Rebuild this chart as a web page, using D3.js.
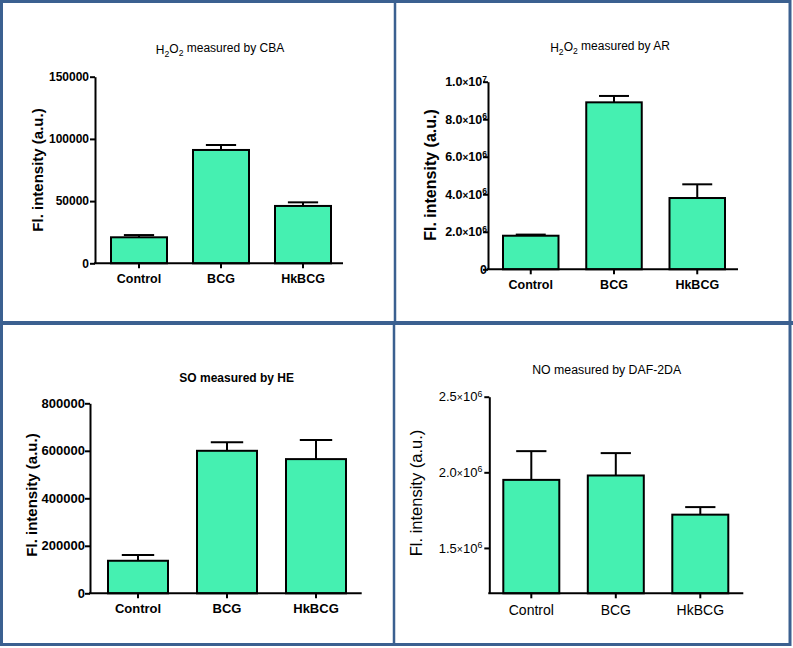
<!DOCTYPE html>
<html>
<head>
<meta charset="utf-8">
<script src="https://cdn.jsdelivr.net/npm/d3@7"></script>
<style>
  html, body { margin: 0; padding: 0; background: #fff; }
  svg { display: block; font-family: Arial, "Liberation Sans", sans-serif; }
</style>
</head>
<body>
<svg id="chart" width="793" height="648"></svg>
<script>
// ---------- DATA ----------
const categories = ["Control", "BCG", "HkBCG"];

const cbaMeans  = [20900, 91100, 46100];
const cbaErrors = [1800, 4000, 2900];
const cbaTicks  = [0, 50000, 100000, 150000];

const arMeans  = [1790000, 8900000, 3800000];
const arErrors = [60000, 340000, 730000];
const arTicks  = [0, 2000000, 4000000, 6000000, 8000000, 10000000];

const heMeans  = [137000, 600000, 565000];
const heErrors = [24000, 36000, 80000];
const heTicks  = [0, 200000, 400000, 600000, 800000];

const dafMeans  = [1950000, 1979000, 1720000];
const dafErrors = [190000, 148000, 50000];
const dafTicks  = [1500000, 2000000, 2500000];

const titles = ["H2O2 measured by CBA", "H2O2 measured by AR", "SO measured by HE", "NO measured by DAF-2DA"];
const yLabel = "Fl. intensity (a.u.)";

// ---------- STYLE ----------
const barFill = "#45f0b1";
const frameColor = "#3b6090";

const svg = d3.select("#chart");

// panel frames
svg.append("rect").attr("x", 1.5).attr("y", 1.5).attr("width", 788.5).attr("height", 643)
  .attr("fill", "none").attr("stroke", frameColor).attr("stroke-width", 3);
svg.append("line").attr("x1", 395).attr("x2", 395).attr("y1", 0).attr("y2", 323)
  .attr("stroke", frameColor).attr("stroke-width", 2.5);
svg.append("line").attr("x1", 394).attr("x2", 394).attr("y1", 323).attr("y2", 646)
  .attr("stroke", frameColor).attr("stroke-width", 2.5);
svg.append("line").attr("x1", 0).attr("x2", 793).attr("y1", 323).attr("y2", 323)
  .attr("stroke", frameColor).attr("stroke-width", 4);

const panels = [
  { means: cbaMeans, errors: cbaErrors, ticks: cbaTicks, domain: [0, 150000], title: titles[0], sci: false,
    bold: true, titleBold: false, titleX: 220, titleY: 54, titleSize: 12,
    axX: 95, axX1: 343, yBot: 263.3, yTop: 76.7, barL: 111, barR: 331, bw: 56,
    tickFs: 12, catFs: 12.5, catPad: 5.5, labelX: 43, labelY: 170, labelFs: 15, tickTextX: -6 },
  { means: arMeans, errors: arErrors, ticks: arTicks, domain: [0, 10000000], title: titles[1], sci: true,
    bold: true, titleBold: false, titleX: 610, titleY: 52, titleSize: 12,
    axX: 488, axX1: 738, yBot: 269.3, yTop: 81.7, barL: 503, barR: 725, bw: 55.5,
    tickFs: 12.5, catFs: 12.5, catPad: 6, labelX: 436, labelY: 175, labelFs: 16, tickTextX: -1 },
  { means: heMeans, errors: heErrors, ticks: heTicks, domain: [0, 800000], title: titles[2], sci: false,
    bold: true, titleBold: true, titleX: 236.7, titleY: 382, titleSize: 12,
    axX: 90, axX1: 361.7, yBot: 593.3, yTop: 403.3, barL: 108, barR: 346, bw: 60,
    tickFs: 13, catFs: 13, catPad: 5.5, labelX: 37, labelY: 495, labelFs: 15, tickTextX: -5 },
  { means: dafMeans, errors: dafErrors, ticks: dafTicks, domain: [1200000, 2500000], title: titles[3], sci: true,
    bold: false, titleBold: false, titleX: 606.7, titleY: 374, titleSize: 12.3,
    axX: 489.3, axX1: 743.3, yBot: 593.3, yTop: 396.7, barL: 503.3, barR: 728.3, bw: 56,
    tickFs: 13, catFs: 14, catPad: 7, labelX: 422, labelY: 493, labelFs: 16.5, tickTextX: -7 }
];

function writeTitle(sel, text) {
  // subscripts for chemical formulas like H2O2
  const parts = text.split(/(\d)(?=\D|$)/);
  const m = text.match(/^H2O2(.*)$/);
  if (m) {
    sel.append("tspan").text("H");
    sel.append("tspan").attr("font-size", "72%").attr("dy", "0.3em").text("2");
    sel.append("tspan").attr("dy", "-0.3em").text("O");
    sel.append("tspan").attr("font-size", "72%").attr("dy", "0.3em").text("2");
    sel.append("tspan").attr("dy", "-0.3em").text(m[1]);
  } else {
    sel.text(text);
  }
}

panels.forEach(p => {
  const g = svg.append("g");
  const weight = p.bold ? "bold" : "normal";

  const x = d3.scaleBand().domain(categories).range([p.barL, p.barR])
    .paddingInner(1 - p.bw / ((p.barR - p.barL - p.bw) / 2)).paddingOuter(0);
  const y = d3.scaleLinear().domain(p.domain).range([p.yBot, p.yTop]);

  // bars
  g.selectAll("rect.bar").data(categories).join("rect")
    .attr("class", "bar")
    .attr("x", d => x(d))
    .attr("width", x.bandwidth())
    .attr("y", (d, i) => y(p.means[i]))
    .attr("height", (d, i) => p.yBot - y(p.means[i]))
    .attr("fill", barFill)
    .attr("stroke", "#000")
    .attr("stroke-width", 2);

  // error bars
  const cap = x.bandwidth() * 0.27;
  categories.forEach((c, i) => {
    const cx = x(c) + x.bandwidth() / 2;
    g.append("line").attr("x1", cx).attr("x2", cx)
      .attr("y1", y(p.means[i])).attr("y2", y(p.means[i] + p.errors[i]))
      .attr("stroke", "#000").attr("stroke-width", 2);
    g.append("line").attr("x1", cx - cap).attr("x2", cx + cap)
      .attr("y1", y(p.means[i] + p.errors[i])).attr("y2", y(p.means[i] + p.errors[i]))
      .attr("stroke", "#000").attr("stroke-width", 2);
  });

  // y axis
  const yAxis = d3.axisLeft(y).tickValues(p.ticks).tickSize(5).tickSizeOuter(0)
    .tickFormat(d => d3.format("d")(d));
  const ya = g.append("g").attr("transform", `translate(${p.axX},0)`).call(yAxis);
  ya.select(".domain").attr("stroke-width", 2).attr("stroke", "#000");
  ya.selectAll(".tick line").attr("stroke-width", 2).attr("stroke", "#000");
  ya.selectAll(".tick text")
    .attr("x", p.tickTextX)
    .attr("font-size", p.tickFs).attr("font-weight", weight)
    .attr("font-family", "Arial, 'Liberation Sans', sans-serif")
    .attr("fill", "#000");
  if (p.sci) {
    ya.selectAll(".tick text").each(function(d) {
      const t = d3.select(this);
      if (d === 0) { t.text("0"); return; }
      const e = Math.floor(Math.log10(d));
      const mant = (d / Math.pow(10, e)).toFixed(1);
      t.text("");
      t.append("tspan").text(mant);
      t.append("tspan").attr("font-size", "80%").text("\u00d7");
      t.append("tspan").text("10");
      t.append("tspan").attr("font-size", "68%").attr("dy", "-0.55em").text(e);
    });
  }

  // x axis
  const xAxis = d3.axisBottom(x).tickSize(5).tickSizeOuter(0).tickPadding(p.catPad);
  const xa = g.append("g").attr("transform", `translate(0,${p.yBot})`).call(xAxis);
  xa.select(".domain").remove();
  xa.selectAll(".tick line").attr("stroke-width", 2).attr("stroke", "#000");
  xa.selectAll(".tick text")
    .attr("font-size", p.catFs).attr("font-weight", weight)
    .attr("font-family", "Arial, 'Liberation Sans', sans-serif")
    .attr("fill", "#000");
  g.append("line").attr("x1", p.axX - 1).attr("x2", p.axX1)
    .attr("y1", p.yBot).attr("y2", p.yBot)
    .attr("stroke", "#000").attr("stroke-width", 2);

  // y label
  g.append("text")
    .attr("transform", `translate(${p.labelX},${p.labelY}) rotate(-90)`)
    .attr("text-anchor", "middle")
    .attr("font-size", p.labelFs).attr("font-weight", weight)
    .attr("fill", "#000")
    .text(yLabel);

  // title
  const tt = g.append("text")
    .attr("x", p.titleX).attr("y", p.titleY)
    .attr("text-anchor", "middle")
    .attr("font-size", p.titleSize)
    .attr("font-weight", p.titleBold ? "bold" : "normal")
    .attr("fill", "#000");
  writeTitle(tt, p.title);
});
</script>
</body>
</html>
